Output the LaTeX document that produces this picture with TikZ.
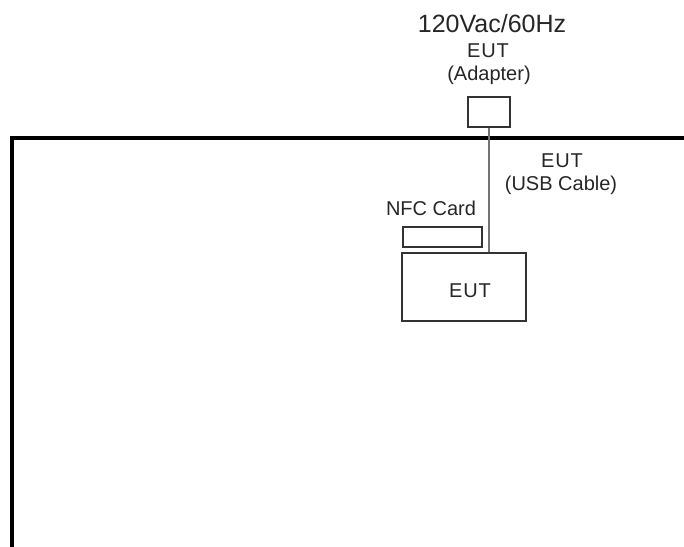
\documentclass[tikz,border=0pt]{standalone}
\usepackage{fontspec}
\setmainfont{Liberation Sans}
\begin{document}
\begin{tikzpicture}[x=1pt,y=-1pt,
  txt/.style={anchor=base,inner sep=0pt,text=black!85,font=\fontsize{20}{24}\selectfont},
  bigtxt/.style={anchor=base,inner sep=0pt,text=black!85,font=\fontsize{25}{30}\selectfont},
  boxst/.style={draw=black!80,line width=1.5pt,inner sep=0pt},
  cable/.style={draw=black!55,line width=2pt},
  wall/.style={draw=black,line width=3.5pt,line cap=rect}]
\useasboundingbox (0,0) rectangle (684,546);
% table edge
\coordinate (tr) at (690,138);
\coordinate (tl) at (12,138);
\coordinate (bl) at (12,552);
\draw[wall] (tr) -- (tl) -- (bl);
% boxes
\node[boxst,minimum width=42pt,minimum height=30pt] (adapter) at (489,112) {};
\node[boxst,minimum width=79pt,minimum height=20pt] (nfc) at (442.5,237) {};
\node[boxst,minimum width=124pt,minimum height=68pt] (eut) at (464,287) {};
% cable
\draw[cable] (adapter.south) -- (adapter.south |- eut.north);
% texts
\node[bigtxt] (power) at (492,32) {120Vac/60Hz};
\node[txt] (adlbl1) at (488,57) {E\kern0.8pt U\kern0.8pt T};
\node[txt] (adlbl2) at (489,80) {(Adapter)};
\node[txt] (usb1) at (562,167) {E\kern0.8pt U\kern0.8pt T};
\node[txt] (usb2) at (561,190) {(USB Cable)};
\node[txt] (nfclbl) at (431,215) {NFC Card};
\node[txt] (eutlbl) at (470,297) {E\kern0.8pt U\kern0.8pt T};
\end{tikzpicture}
\end{document}
